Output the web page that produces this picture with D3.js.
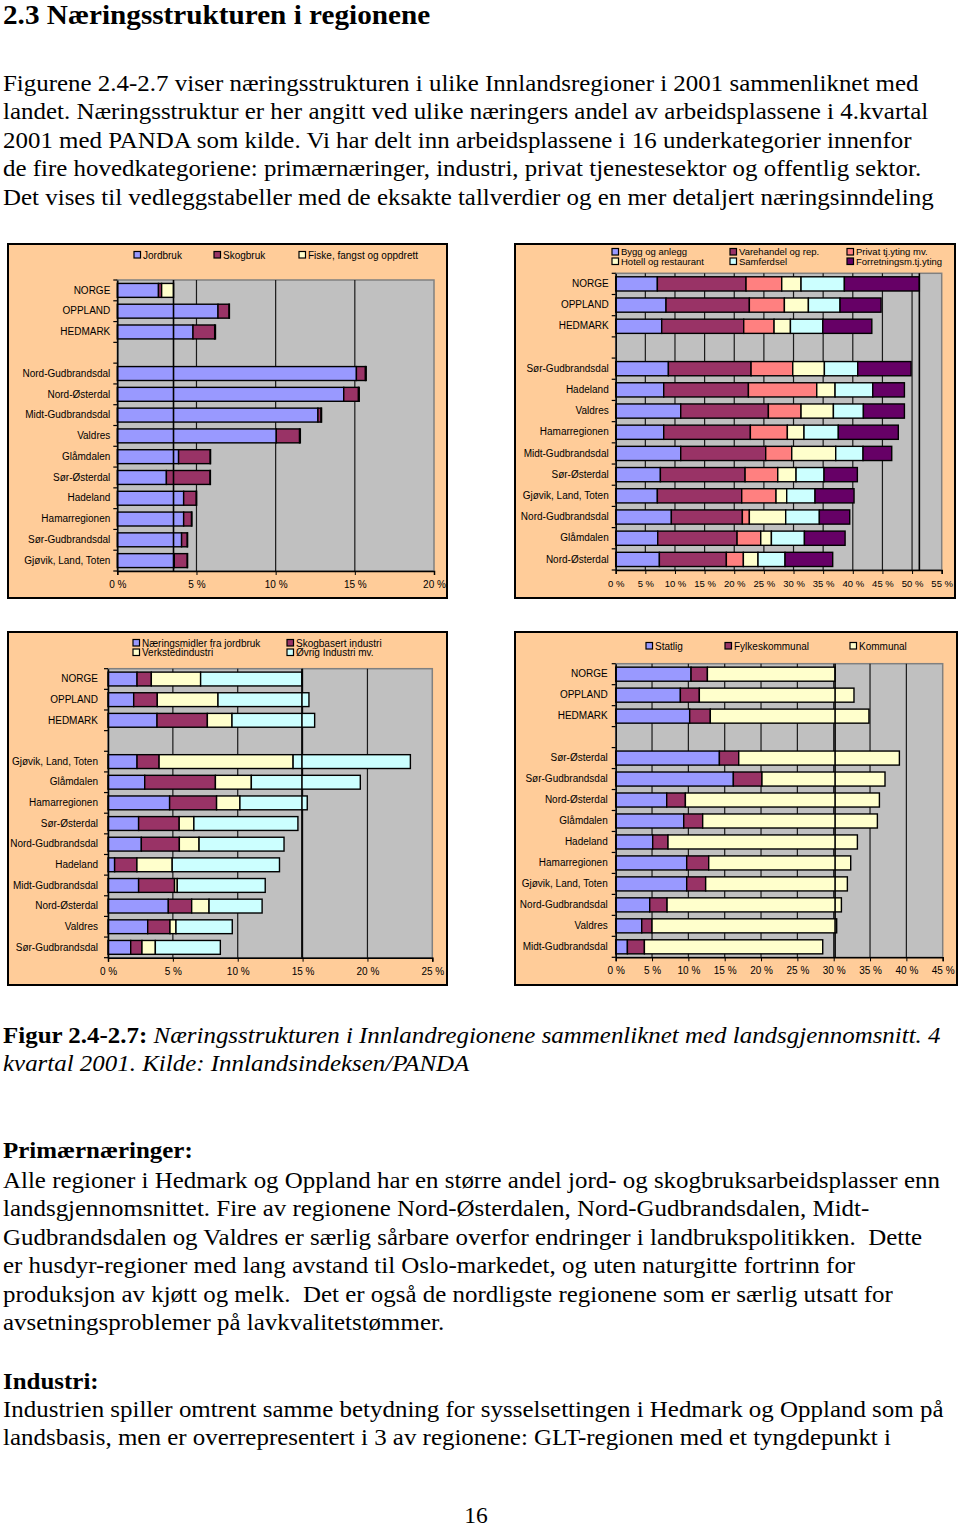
<!DOCTYPE html>
<html><head><meta charset="utf-8">
<script src="https://cdn.jsdelivr.net/npm/d3@7"></script>
<style>body{margin:0;background:#fff}svg{display:block}</style>
</head><body><svg id="page" width="960" height="1527"></svg>
<script>
// ---------- Figure 2.4 : Primærnæringer ----------
const cats1 = ["NORGE","OPPLAND","HEDMARK","","Nord-Gudbrandsdal","Nord-Østerdal","Midt-Gudbrandsdal","Valdres","Glåmdalen","Sør-Østerdal","Hadeland","Hamarregionen","Sør-Gudbrandsdal","Gjøvik, Land, Toten"];
const series1 = ["Jordbruk","Skogbruk","Fiske, fangst og oppdrett"];
const jordbruk = [2.6,6.36,4.78,null,15.1,14.3,12.67,10.04,3.87,3.1,4.19,4.19,4.06,3.6];
const skogbruk = [0.2,0.7,1.37,null,0.57,0.93,0.2,1.47,2.0,2.76,0.8,0.5,0.36,0.82];
const fiske    = [0.75,0.02,0.05,null,0.05,0.05,0.03,0.05,0.02,0.02,0.02,0.02,0.02,0.02];
const ticks1 = [0,5,10,15,20];

// ---------- Figure 2.5 : Privat tjenesteyting ----------
const cats2 = ["NORGE","OPPLAND","HEDMARK","","Sør-Gudbrandsdal","Hadeland","Valdres","Hamarregionen","Midt-Gudbrandsdal","Sør-Østerdal","Gjøvik, Land, Toten","Nord-Gudbrandsdal","Glåmdalen","Nord-Østerdal"];
const series2 = ["Bygg og anlegg","Varehandel og rep.","Privat tj.yting mv.","Hotell og restaurant","Samferdsel","Forretningsm.tj.yting"];
const bygg       = [7.03,8.49,7.76,null,8.89,8.1,10.97,8.1,10.97,7.54,7.03,9.39,7.09,7.37];
const varehandel = [14.96,14.06,13.84,null,13.95,14.29,14.79,14.62,14.34,14.29,14.23,11.98,13.39,11.3];
const privat     = [6.02,5.91,5.12,null,7.03,11.53,5.51,6.24,4.39,5.51,5.79,1.18,3.99,2.87];
const hotell     = [3.26,4.05,2.76,null,5.34,3.09,5.46,2.81,7.42,3.09,1.8,6.13,1.8,2.47];
const samferdsel = [7.31,5.34,5.46,null,5.62,6.36,5.06,5.79,4.61,4.72,4.78,5.68,5.57,4.56];
const forretning = [12.65,6.92,8.27,null,9.0,5.34,6.92,10.12,4.84,5.62,6.58,5.12,6.86,8.04];
const ticks2 = [0,5,10,15,20,25,30,35,40,45,50,55];

// ---------- Figure 2.6 : Industri ----------
const cats3 = ["NORGE","OPPLAND","HEDMARK","","Gjøvik, Land, Toten","Glåmdalen","Hamarregionen","Sør-Østerdal","Nord-Gudbrandsdal","Hadeland","Midt-Gudbrandsdal","Nord-Østerdal","Valdres","Sør-Gudbrandsdal"];
const series3 = ["Næringsmidler fra jordbruk","Skogbasert industri","Verkstedindustri","Øvrig Industri mv."];
const naeringsmidler = [2.24,1.98,3.78,null,2.24,2.83,4.75,2.36,2.57,0.51,2.36,4.65,3.06,1.75];
const skogbasert     = [1.10,1.82,3.88,null,1.70,5.45,3.62,3.13,2.93,1.72,2.77,1.80,1.72,0.87];
const verksted       = [3.80,4.68,1.90,null,10.33,2.77,1.80,1.13,1.52,2.72,0.21,1.34,0.46,1.03];
const ovrig          = [7.81,7.01,6.37,null,9.04,8.40,5.19,8.02,6.55,8.27,6.78,4.09,4.34,5.01];
const ticks3 = [0,5,10,15,20,25];

// ---------- Figure 2.7 : Offentlig sektor ----------
const cats4 = ["NORGE","OPPLAND","HEDMARK","","Sør-Østerdal","Sør-Gudbrandsdal","Nord-Østerdal","Glåmdalen","Hadeland","Hamarregionen","Gjøvik, Land, Toten","Nord-Gudbrandsdal","Valdres","Midt-Gudbrandsdal"];
const series4 = ["Statlig","Fylkeskommunal","Kommunal"];
const statlig   = [10.37,8.9,10.18,null,14.27,16.19,7.02,9.36,5.09,9.77,9.77,4.68,3.58,1.61];
const fylke     = [2.25,2.61,2.84,null,2.66,3.94,2.57,2.61,2.11,3.03,2.61,2.39,1.42,2.34];
const kommunal  = [17.57,21.28,21.83,null,22.11,16.93,26.7,24.04,26.06,19.54,19.5,23.99,25.41,24.54];
const ticks4 = [0,5,10,15,20,25,30,35,40,45];

// ---------- Page texts ----------
const heading = "2.3 Næringsstrukturen i regionene";
const intro = [
 "Figurene 2.4-2.7 viser næringsstrukturen i ulike Innlandsregioner i 2001 sammenliknet med",
 "landet. Næringsstruktur er her angitt ved ulike næringers andel av arbeidsplassene i 4.kvartal",
 "2001 med PANDA som kilde. Vi har delt inn arbeidsplassene i 16 underkategorier innenfor",
 "de fire hovedkategoriene: primærnæringer, industri, privat tjenestesektor og offentlig sektor.",
 "Det vises til vedleggstabeller med de eksakte tallverdier og en mer detaljert næringsinndeling"
];
const captionBold = "Figur 2.4-2.7:";
const captionItalic = [" Næringsstrukturen i Innlandregionene sammenliknet med landsgjennomsnitt. 4","kvartal 2001. Kilde: Innlandsindeksen/PANDA"];
const primHead = "Primærnæringer:";
const primText = [
 "Alle regioner i Hedmark og Oppland har en større andel jord- og skogbruksarbeidsplasser enn",
 "landsgjennomsnittet. Fire av regionene Nord-Østerdalen, Nord-Gudbrandsdalen, Midt-",
 "Gudbrandsdalen og Valdres er særlig sårbare overfor endringer i landbrukspolitikken.  Dette",
 "er husdyr-regioner med lang avstand til Oslo-markedet, og uten naturgitte fortrinn for",
 "produksjon av kjøtt og melk.  Det er også de nordligste regionene som er særlig utsatt for",
 "avsetningsproblemer på lavkvalitetstømmer."
];
const indHead = "Industri:";
const indText = [
 "Industrien spiller omtrent samme betydning for sysselsettingen i Hedmark og Oppland som på",
 "landsbasis, men er overrepresentert i 3 av regionene: GLT-regionen med et tyngdepunkt i"
];
const pageNo = "16";

// ---------- colours ----------
const C = {blue:"#9999FF", maroon:"#993366", yellow:"#FFFFCC", cyan:"#CCFFFF", salmon:"#FF8080", purple:"#660066"};

const svg = d3.select("#page");
const SERIF = "'Liberation Serif','Times New Roman',serif";
const SANS = "'Liberation Sans',Arial,sans-serif";
const FS = 23.5, SX = 1.062;

// text (page is slightly stretched horizontally)
const T = svg.append("g").attr("transform",`translate(3,0) scale(${SX},1)`);
T.append("text").attr("x",0).attr("y",24).attr("font-family",SERIF).attr("font-weight","bold")
  .attr("font-size",27.5).text(heading);
function para(lines, y0, lh){
  lines.forEach((t,i)=>T.append("text").attr("x",0).attr("y",y0+i*lh).attr("font-family",SERIF)
    .attr("font-size",FS).style("white-space","pre").text(t));
}
para(intro, 91, 28.4);
const cap1 = T.append("text").attr("x",0).attr("y",1043).attr("font-family",SERIF).attr("font-size",FS).style("white-space","pre");
cap1.append("tspan").attr("font-weight","bold").text(captionBold);
cap1.append("tspan").attr("font-style","italic").text(captionItalic[0]);
T.append("text").attr("x",0).attr("y",1071).attr("font-family",SERIF).attr("font-size",FS).attr("font-style","italic").text(captionItalic[1]);
T.append("text").attr("x",0).attr("y",1158).attr("font-family",SERIF).attr("font-size",FS).attr("font-weight","bold").text(primHead);
para(primText, 1188, 28.4);
T.append("text").attr("x",0).attr("y",1389).attr("font-family",SERIF).attr("font-size",FS).attr("font-weight","bold").text(indHead);
para(indText, 1417, 28.4);
svg.append("text").attr("x",476).attr("y",1523).attr("text-anchor","middle").attr("font-family",SERIF).attr("font-size",FS).text(pageNo);

// ---------- chart builder ----------
function chart(cfg){
  const g = svg.append("g");
  const [bx0,by0,bx1,by1] = cfg.box;
  g.append("rect").attr("x",bx0).attr("y",by0).attr("width",bx1-bx0).attr("height",by1-by0)
    .attr("fill","#FFCC99").attr("stroke","#000").attr("stroke-width",2);
  const [px0,py0,px1,py1] = cfg.plot;
  const x = d3.scaleLinear().domain([0,d3.max(cfg.ticks)]).range([px0,px1]);
  const y = d3.scaleBand().domain(cfg.cats).range([py0,py1]).paddingInner(0.33).paddingOuter(0.165);
  g.append("rect").attr("x",px0).attr("y",py0).attr("width",px1-px0).attr("height",py1-py0)
    .attr("fill","#C0C0C0").attr("stroke","#808080").attr("stroke-width",1.5);
  // gridlines
  g.selectAll(".grid").data(cfg.ticks.filter(t=>t>0 && t<d3.max(cfg.ticks))).join("line")
    .attr("x1",d=>x(d)).attr("x2",d=>x(d)).attr("y1",py0).attr("y2",py1)
    .attr("stroke","#1a1a1a").attr("stroke-width",1.2);
  // stacked bars
  const rows = cfg.cats.map((c,i)=>{const o={cat:c}; cfg.series.forEach(s=>o[s.name]=s.values[i]); return o;})
    .filter(r=>r.cat!=="");
  const stack = d3.stack().keys(cfg.series.map(s=>s.name)).value((d,k)=>d[k]||0)(rows);
  stack.forEach((layer,li)=>{
    g.selectAll(null).data(layer.filter(d=>d[1]-d[0]>0)).join("rect")
      .attr("x",d=>x(d[0])).attr("width",d=>x(d[1])-x(d[0]))
      .attr("y",d=>y(d.data.cat)).attr("height",y.bandwidth())
      .attr("fill",cfg.series[li].color).attr("stroke","#000").attr("stroke-width",1.4);
  });
  // reference line at NORGE total
  const norge = rows.find(r=>r.cat==="NORGE");
  const tot = d3.sum(cfg.series, s=>norge[s.name]||0);
  g.append("line").attr("x1",x(tot)).attr("x2",x(tot)).attr("y1",py0).attr("y2",py1)
    .attr("stroke","#000").attr("stroke-width",1.6);
  // axes
  const xa = g.append("g").attr("transform",`translate(0,${py1})`)
    .call(d3.axisBottom(x).tickValues(cfg.ticks).tickFormat(d=>d+" %").tickSize(4).tickPadding(6));
  xa.select(".domain").attr("stroke","#000").attr("stroke-width",1.5);
  xa.selectAll("text").attr("font-family",SANS).attr("font-size",cfg.tickFs||10).attr("fill","#000");
  const ya = g.append("g").attr("transform",`translate(${px0},0)`)
    .call(d3.axisLeft(y).tickSize(0).tickPadding(cfg.labelPad||7));
  ya.select(".domain").attr("stroke","#000").attr("stroke-width",1.5);
  ya.selectAll("text").attr("font-family",SANS).attr("font-size",10).attr("fill","#000");
  // category separator ticks
  g.selectAll(null).data(d3.range(cfg.cats.length+1)).join("line")
    .attr("x1",px0-4).attr("x2",px0).attr("y1",i=>py0+i*y.step()).attr("y2",i=>py0+i*y.step())
    .attr("stroke","#000").attr("stroke-width",1.2);
  // legend
  cfg.legend.forEach((L,i)=>{
    const s = cfg.series[i];
    g.append("rect").attr("x",L[0]).attr("y",L[1]-3.5).attr("width",6.5).attr("height",6.5)
      .attr("fill",s.color).attr("stroke","#000").attr("stroke-width",1.2);
    g.append("text").attr("x",L[0]+9).attr("y",L[1]).attr("dy","0.35em")
      .attr("font-family",SANS).attr("font-size",cfg.legFs||10).text(s.name);
  });
}

chart({box:[8,244,447,598], plot:[117.3,280,434,571], cats:cats1, ticks:ticks1,
  series:[{name:series1[0],values:jordbruk,color:C.blue},{name:series1[1],values:skogbruk,color:C.maroon},{name:series1[2],values:fiske,color:C.yellow}],
  legend:[[134,255],[214,255],[299,255]], labelPad:7});

chart({box:[515,244,955,598], plot:[615.7,273.3,941.7,570], cats:cats2, ticks:ticks2, tickFs:9.5, legFs:9.5,
  series:[{name:series2[0],values:bygg,color:C.blue},{name:series2[1],values:varehandel,color:C.maroon},{name:series2[2],values:privat,color:C.salmon},
          {name:series2[3],values:hotell,color:C.yellow},{name:series2[4],values:samferdsel,color:C.cyan},{name:series2[5],values:forretning,color:C.purple}],
  legend:[[612,252],[730,252],[847,252],[612,261.5],[730,261.5],[847,261.5]], labelPad:7});

chart({box:[8,632,447,985], plot:[108,668.7,432.3,957.7], cats:cats3, ticks:ticks3,
  series:[{name:series3[0],values:naeringsmidler,color:C.blue},{name:series3[1],values:skogbasert,color:C.maroon},{name:series3[2],values:verksted,color:C.yellow},{name:series3[3],values:ovrig,color:C.cyan}],
  legend:[[133,643],[287,643],[133,652.5],[287,652.5]], labelPad:10});

chart({box:[515,632,957,985], plot:[615.7,663.7,942.7,957.3], cats:cats4, ticks:ticks4,
  series:[{name:series4[0],values:statlig,color:C.blue},{name:series4[1],values:fylke,color:C.maroon},{name:series4[2],values:kommunal,color:C.yellow}],
  legend:[[646,646],[725,646],[850,646]], labelPad:8});
</script></body></html>
